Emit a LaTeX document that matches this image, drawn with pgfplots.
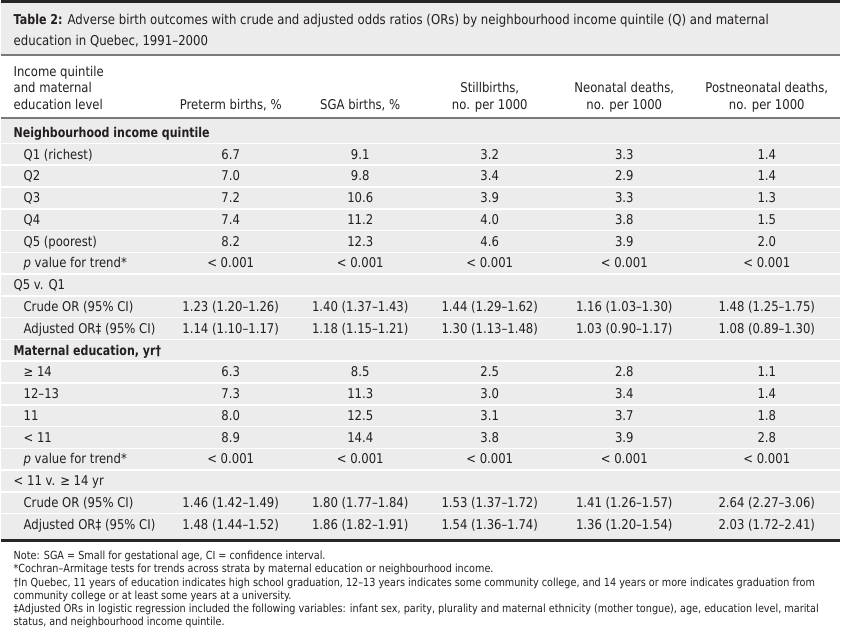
\documentclass[border=0pt]{standalone}
\usepackage{pgfplots}
\pgfplotsset{compat=1.18}
\usepackage{fontspec}
\setmainfont{DejaVu Sans}[FakeStretch=0.866]
\newfontfamily\boldf{DejaVu Sans Bold}[FakeStretch=0.82]
\definecolor{bg}{HTML}{ECECEC}
\definecolor{txt}{HTML}{231F20}
\definecolor{rule}{HTML}{7A7A7A}
\newcommand{\bodyf}{\fontsize{13.5bp}{15bp}\selectfont}
\newcommand{\titlef}{\fontsize{13.6bp}{15bp}\selectfont}
\newcommand{\notef}{\fontsize{11.2bp}{13bp}\selectfont}
\newcommand{\lab}[3]{\node[anchor=base west,inner sep=0,text=txt,font=\bodyf] at (axis cs:#1,#2) {#3};}
\newcommand{\cel}[3]{\node[anchor=base,inner sep=0,text=txt,font=\bodyf] at (axis cs:#1,#2) {#3};}
\newcommand{\drow}[7]{%
  \lab{22}{#1}{#2}%
  \cel{230}{#1}{#3}\cel{360}{#1}{#4}\cel{490}{#1}{#5}\cel{625}{#1}{#6}\cel{768}{#1}{#7}}
\newcommand{\sect}[2]{\node[anchor=base west,inner sep=0,text=txt,font=\bodyf\boldf] at (axis cs:12,#1) {#2};}
\newcommand{\note}[2]{\node[anchor=base west,inner sep=0,text=txt,font=\notef] at (axis cs:12,#1) {#2};}
\begin{document}
\begin{tikzpicture}
\begin{axis}[scale only axis, width=841bp, height=637bp,
  xmin=0, xmax=841, ymin=0, ymax=637, y dir=reverse,
  hide axis, clip=false]
% backgrounds
\fill[bg] (axis cs:0,3) rectangle (axis cs:841,54.5);
\fill[bg] (axis cs:0,119.5) rectangle (axis cs:841,540.5);
\pgfplotsinvokeforeach{0,...,17}{%
  \draw[white, line width=1.6bp] (axis cs:0,{144+21.85*#1}) -- (axis cs:841,{144+21.85*#1});}
% rules
\draw[black!85, line width=3bp] (axis cs:0,1.5) -- (axis cs:841,1.5);
\draw[rule, line width=1.6bp] (axis cs:0,55.3) -- (axis cs:841,55.3);
\draw[rule, line width=1.6bp] (axis cs:0,118.7) -- (axis cs:841,118.7);
\draw[black!85, line width=3bp] (axis cs:0,542) -- (axis cs:841,542);
% title
\node[anchor=base west,inner sep=0,text=txt,font=\titlef] at (axis cs:12,24.5) {{\boldf Table 2:} Adverse birth outcomes with crude and adjusted odds ratios (ORs) by neighbourhood income quintile (Q) and maternal};
\node[anchor=base west,inner sep=0,text=txt,font=\titlef] at (axis cs:12,46) {education in Quebec, 1991–2000};
% column headers
\lab{12}{76.5}{Income quintile}
\lab{12}{93}{and maternal}
\lab{12}{109.5}{education level}
\cel{230}{109.5}{Preterm births, \%}
\cel{360}{109.5}{SGA births, \%}
\cel{490}{93}{Stillbirths,}
\cel{490}{109.5}{no. per 1000}
\cel{625}{93}{Neonatal deaths,}
\cel{625}{109.5}{no. per 1000}
\cel{768}{93}{Postneonatal deaths,}
\cel{768}{109.5}{no. per 1000}
% body
\sect{137.8}{Neighbourhood income quintile}
\drow{159.6}{Q1 (richest)}{6.7}{9.1}{3.2}{3.3}{1.4}
\drow{181.5}{Q2}{7.0}{9.8}{3.4}{2.9}{1.4}
\drow{203.4}{Q3}{7.2}{10.6}{3.9}{3.3}{1.3}
\drow{225.2}{Q4}{7.4}{11.2}{4.0}{3.8}{1.5}
\drow{247.1}{Q5 (poorest)}{8.2}{12.3}{4.6}{3.9}{2.0}
\drow{268.9}{\textit{p} value for trend*}{< 0.001}{< 0.001}{< 0.001}{< 0.001}{< 0.001}
\lab{12}{290.8}{Q5 v. Q1}
\drow{312.6}{Crude OR (95\% CI)}{1.23 (1.20–1.26)}{1.40 (1.37–1.43)}{1.44 (1.29–1.62)}{1.16 (1.03–1.30)}{1.48 (1.25–1.75)}
\drow{334.5}{Adjusted OR‡ (95\% CI)}{1.14 (1.10–1.17)}{1.18 (1.15–1.21)}{1.30 (1.13–1.48)}{1.03 (0.90–1.17)}{1.08 (0.89–1.30)}
\sect{356.3}{Maternal education, yr†}
\drow{378.2}{≥ 14}{6.3}{8.5}{2.5}{2.8}{1.1}
\drow{400.0}{12–13}{7.3}{11.3}{3.0}{3.4}{1.4}
\drow{421.9}{11}{8.0}{12.5}{3.1}{3.7}{1.8}
\drow{443.7}{< 11}{8.9}{14.4}{3.8}{3.9}{2.8}
\drow{465.6}{\textit{p} value for trend*}{< 0.001}{< 0.001}{< 0.001}{< 0.001}{< 0.001}
\lab{12}{487.4}{< 11 v. ≥ 14 yr}
\drow{509.3}{Crude OR (95\% CI)}{1.46 (1.42–1.49)}{1.80 (1.77–1.84)}{1.53 (1.37–1.72)}{1.41 (1.26–1.57)}{2.64 (2.27–3.06)}
\drow{531.1}{Adjusted OR‡ (95\% CI)}{1.48 (1.44–1.52)}{1.86 (1.82–1.91)}{1.54 (1.36–1.74)}{1.36 (1.20–1.54)}{2.03 (1.72–2.41)}
% notes
\note{561.5}{Note: SGA = Small for gestational age, CI = confidence interval.}
\note{574.8}{*Cochran–Armitage tests for trends across strata by maternal education or neighbourhood income.}
\note{588.1}{†In Quebec, 11 years of education indicates high school graduation, 12–13 years indicates some community college, and 14 years or more indicates graduation from}
\note{601.4}{community college or at least some years at a university.}
\note{614.7}{‡Adjusted ORs in logistic regression included the following variables: infant sex, parity, plurality and maternal ethnicity (mother tongue), age, education level, marital}
\note{628}{status, and neighbourhood income quintile.}
\end{axis}
\end{tikzpicture}
\end{document}
